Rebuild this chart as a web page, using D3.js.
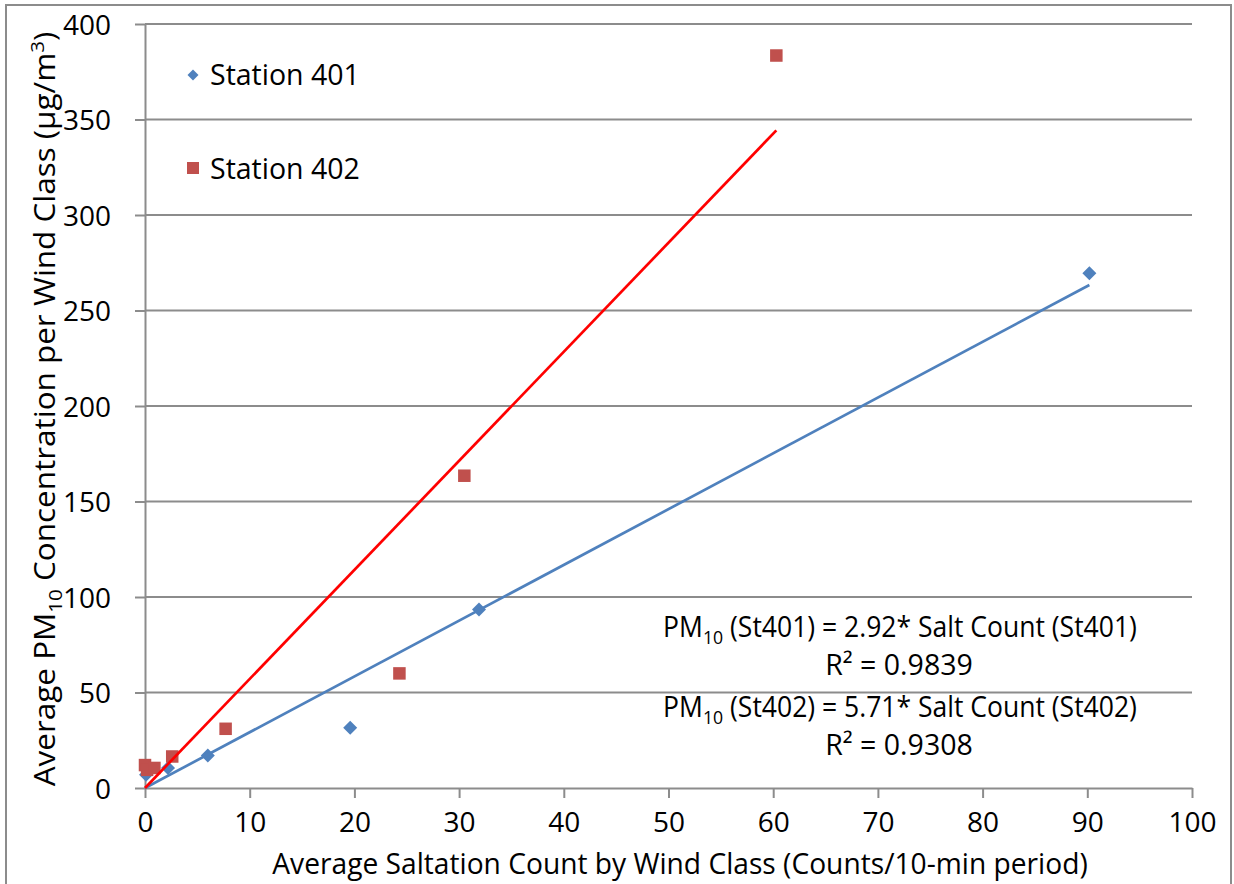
<!DOCTYPE html>
<html>
<head>
<meta charset="utf-8">
<script src="https://cdn.jsdelivr.net/npm/d3@7"></script>
<style>
  html, body { margin: 0; padding: 0; background: #fff; }
  svg { display: block; font-family: "Open Sans", "Noto Sans", sans-serif; }
</style>
</head>
<body>
<svg id="chart" width="1234" height="884"></svg>
<script>
// Saltation count vs PM10 concentration, averaged per wind class
const station401X = [0.1, 2.2, 6.0, 19.6, 31.9, 90.2];
const station401Y = [7.0, 10.5, 17.0, 31.5, 93.5, 269.5];
const station402X = [0.0, 0.2, 0.9, 2.6, 7.7, 24.3, 30.5, 60.3];
const station402Y = [12.0, 9.5, 10.5, 16.5, 31.0, 60.0, 163.5, 383.5];

// Fitted slopes (regression forced through the origin)
const slope401 = 2.92;
const slope402 = 5.71;
const r2_401 = "0.9839";
const r2_402 = "0.9308";

const seriesNames = ["Station 401", "Station 402"];
const xTicks = [0, 10, 20, 30, 40, 50, 60, 70, 80, 90, 100];
const yTicks = [0, 50, 100, 150, 200, 250, 300, 350, 400];

const blue = "#4F81BD", red = "#C0504D", redLine = "#FF0000", gridColor = "#8C8C8C";

const svg = d3.select("#chart");
const plot = { left: 145, right: 1192, top: 24, bottom: 788 };

const x = d3.scaleLinear().domain([0, 100]).range([plot.left, plot.right]);
const y = d3.scaleLinear().domain([0, 400]).range([plot.bottom, plot.top]);

// Outer chart frame
svg.append("rect")
  .attr("x", 6).attr("y", 5).attr("width", 1225).attr("height", 900)
  .attr("fill", "none").attr("stroke", gridColor).attr("stroke-width", 2);

// Horizontal gridlines
svg.append("g").selectAll("line").data(yTicks.filter(d => d > 0)).join("line")
  .attr("x1", plot.left).attr("x2", plot.right)
  .attr("y1", d => y(d)).attr("y2", d => y(d))
  .attr("stroke", gridColor).attr("stroke-width", 2);

// Axes
const xAxis = d3.axisBottom(x).tickValues(xTicks).tickSize(10).tickSizeOuter(0).tickPadding(14);
const yAxis = d3.axisLeft(y).tickValues(yTicks).tickSize(10).tickSizeOuter(0).tickPadding(24);

const gx = svg.append("g").attr("transform", `translate(0,${plot.bottom})`).call(xAxis);
const gy = svg.append("g").attr("transform", `translate(${plot.left},0)`).call(yAxis);

[gx, gy].forEach(g => {
  g.select(".domain").attr("stroke", gridColor).attr("stroke-width", 2);
  g.selectAll(".tick line").attr("stroke", gridColor).attr("stroke-width", 2);
  g.selectAll(".tick text")
    .attr("fill", "#000")
    .style("font-family", '"Open Sans", sans-serif')
    .style("font-size", "28px");
});
gx.selectAll(".tick text").attr("dy", "0.71em");
gy.selectAll(".tick text").attr("dy", "0.36em");

// Markers
const diamond = d3.symbol().type(d3.symbolDiamond2).size(125);

svg.append("g").selectAll("path")
  .data(station401X.map((v, i) => [v, station401Y[i]])).join("path")
  .attr("d", diamond)
  .attr("transform", d => `translate(${x(d[0])},${y(d[1])})`)
  .attr("fill", blue);

const sq = 12.5;
svg.append("g").selectAll("rect")
  .data(station402X.map((v, i) => [v, station402Y[i]])).join("rect")
  .attr("x", d => x(d[0]) - sq / 2).attr("y", d => y(d[1]) - sq / 2)
  .attr("width", sq).attr("height", sq)
  .attr("fill", red);

// Trendlines through the origin
function trend(slope, xs, color) {
  const xmax = d3.max(xs);
  svg.append("line")
    .attr("x1", x(0)).attr("y1", y(0))
    .attr("x2", x(xmax)).attr("y2", y(slope * xmax))
    .attr("stroke", color).attr("stroke-width", 2.7);
}
trend(slope401, station401X, blue);
trend(slope402, station402X, redLine);

// Helper: squeeze a text element horizontally to a target width
function fitWidth(sel, target, tx, ty, rotate) {
  const w = sel.node().getBBox().width;
  const k = target / w;
  sel.attr("transform", `translate(${tx},${ty})${rotate ? " rotate(" + rotate + ")" : ""} scale(${k},1)`);
}

// Legend
const legend = svg.append("g");
legend.append("path")
  .attr("d", d3.symbol().type(d3.symbolDiamond2).size(78))
  .attr("transform", "translate(193,75)")
  .attr("fill", blue);
legend.append("rect")
  .attr("x", 193 - 6).attr("y", 168 - 6).attr("width", 12).attr("height", 12)
  .attr("fill", red);
legend.selectAll("text").data(seriesNames).join("text")
  .attr("x", 210).attr("y", (d, i) => i === 0 ? 85 : 179)
  .style("font-size", "28.5px").attr("fill", "#000")
  .text(d => d);

// Equation labels
function equation(station, slope, cx, baseline, width) {
  const t = svg.append("text").attr("text-anchor", "middle")
    .style("font-size", "28.5px").attr("fill", "#000");
  t.append("tspan").text("PM");
  t.append("tspan").text("10").style("font-size", "19px").attr("dy", 7);
  t.append("tspan").text(` (St${station}) = ${slope.toFixed(2)}* Salt Count (St${station})`).attr("dy", -7);
  fitWidth(t, width, cx, baseline);
}
function r2(value, cx, baseline) {
  svg.append("text").attr("text-anchor", "middle")
    .attr("x", cx).attr("y", baseline)
    .style("font-size", "28.5px").attr("fill", "#000")
    .text(`R² = ${value}`);
}
equation("401", slope401, 900, 637, 474);
r2(r2_401, 899, 675);
equation("402", slope402, 900, 717, 474);
r2(r2_402, 899, 755);

// Axis titles
const xTitle = svg.append("text").attr("text-anchor", "middle")
  .style("font-size", "29px").attr("fill", "#000")
  .text("Average Saltation Count by Wind Class (Counts/10-min period)");
fitWidth(xTitle, 816, 680, 874);

const yTitle = svg.append("text").attr("text-anchor", "middle")
  .style("font-size", "29px").attr("fill", "#000");
yTitle.append("tspan").text("Average PM");
yTitle.append("tspan").text("10").style("font-size", "19px").attr("dy", 7);
yTitle.append("tspan").text(" Concentration per Wind Class (µg/m").attr("dy", -7);
yTitle.append("tspan").text("3").style("font-size", "19px").attr("dy", -11);
yTitle.append("tspan").text(")").attr("dy", 11);
fitWidth(yTitle, 755, 55, 409, -90);
</script>
</body>
</html>
